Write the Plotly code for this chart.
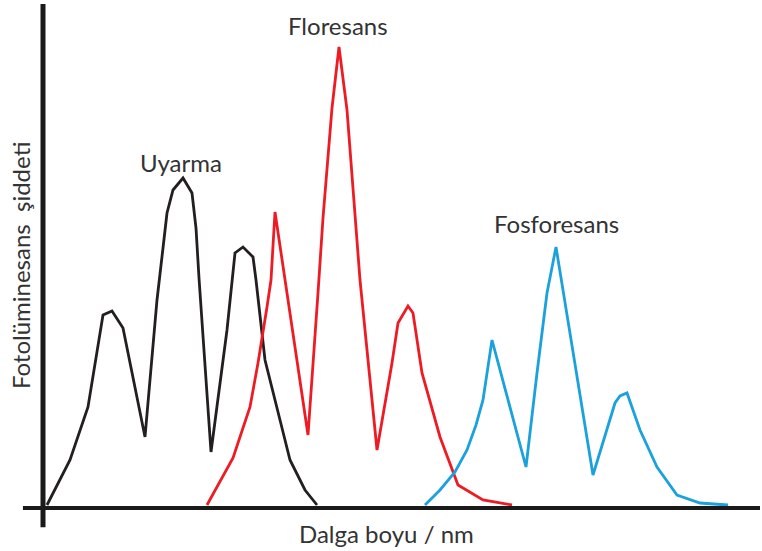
import plotly.graph_objects as go

# Arbitrary wavelength units (no tick labels in the original) and intensity
uyarma_x = [47, 70, 88, 103, 112, 123, 145, 157, 163, 167, 173, 183, 192, 196, 199, 211, 227, 232, 235, 243, 253, 256, 265, 280, 290, 305, 317]
uyarma_y = [3, 48, 101, 193, 197, 180, 71, 208, 260, 295, 318, 330, 315, 280, 230, 56, 178, 228, 255, 261, 251, 228, 148, 88, 48, 18, 3]

floresans_x = [207, 233, 250, 258, 267, 271, 275, 308, 318, 323, 332, 339, 347, 355, 360, 377, 392, 398, 408, 413, 422, 440, 458, 483, 500, 512]
floresans_y = [3, 50, 101, 145, 201, 228, 296, 73, 215, 290, 400, 461, 398, 295, 228, 58, 145, 185, 202, 195, 135, 71, 23, 8, 5, 3]

fosforesans_x = [425, 440, 455, 467, 476, 483, 492, 526, 537, 547, 556, 573, 593, 615, 620, 627, 640, 657, 677, 700, 728]
fosforesans_y = [3, 18, 36, 58, 83, 108, 168, 41, 135, 215, 261, 155, 33, 105, 112, 115, 78, 41, 13, 5, 3]

labels = {"Uyarma": (181, 346), "Floresans": (338, 483), "Fosforesans": (556, 285)}

fig = go.Figure()
fig.add_trace(go.Scatter(x=uyarma_x, y=uyarma_y, mode="lines",
                         line=dict(color="#231f20", width=2.8), showlegend=False, hoverinfo="skip"))
fig.add_trace(go.Scatter(x=floresans_x, y=floresans_y, mode="lines",
                         line=dict(color="#ed1c24", width=2.8), showlegend=False, hoverinfo="skip"))
fig.add_trace(go.Scatter(x=fosforesans_x, y=fosforesans_y, mode="lines",
                         line=dict(color="#1ba1dc", width=2.8), showlegend=False, hoverinfo="skip"))

font_family = "Lato, 'Open Sans', sans-serif"
for text, (lx, ly) in labels.items():
    fig.add_annotation(x=lx, y=ly, xref="x", yref="y", text=text, showarrow=False,
                       font=dict(family=font_family, size=24, color="#333333"),
                       xanchor="center", yanchor="middle")

fig.add_annotation(x=386, y=-0.05, xref="x", yref="paper", text="Dalga boyu / nm", showarrow=False,
                   font=dict(family=font_family, size=24, color="#333333"),
                   xanchor="center", yanchor="middle")
fig.add_annotation(x=-0.032, y=242, xref="paper", yref="y", text="Fotolüminesans  şiddeti",
                   showarrow=False, textangle=-90,
                   font=dict(family=font_family, size=24, color="#333333"),
                   xanchor="center", yanchor="middle")

# Axis lines (extend slightly beyond the origin as in the original)
fig.add_shape(type="line", xref="paper", yref="paper", x0=-0.028, x1=1.0, y0=0, y1=0,
              line=dict(color="#1a1a1a", width=4))
fig.add_shape(type="line", xref="paper", yref="paper", x0=0.0, x1=0.0, y0=-0.038, y1=1.0,
              line=dict(color="#1a1a1a", width=5))

fig.update_layout(
    width=762, height=551,
    margin=dict(l=43, r=2, t=4, b=43),
    paper_bgcolor="white", plot_bgcolor="white",
    xaxis=dict(range=[43, 760], visible=False, fixedrange=True),
    yaxis=dict(range=[0, 504], visible=False, fixedrange=True),
)

fig.write_html("out.html", config={"displayModeBar": False},
               post_script="document.body.style.margin='0';")
